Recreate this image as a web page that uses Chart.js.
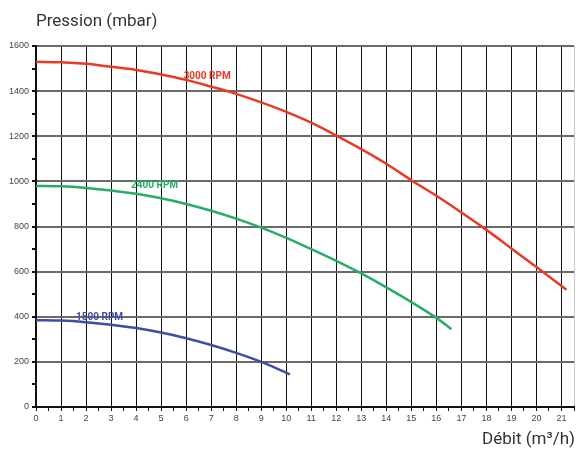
<!DOCTYPE html>
<html>
<head>
<meta charset="utf-8">
<script src="https://cdn.jsdelivr.net/npm/chart.js@4"></script>
<style>
  html, body { margin: 0; padding: 0; background: #fff; }
  #wrap { width: 576px; height: 450px; position: relative; }
</style>
</head>
<body>
<div id="wrap"><canvas id="chart"></canvas></div>
<script>
// debit (m3/h) and pression (mbar)
var flow3000 = [0, 1, 2, 3, 4, 5, 6, 7, 8, 9, 10, 11, 12, 13, 14, 15, 16, 17, 18, 19, 20, 21.2];
var pres3000 = [1530, 1528, 1521, 1508, 1494, 1474, 1450, 1420, 1388, 1350, 1308, 1260, 1203, 1143, 1078, 1005, 936, 862, 785, 703, 620, 520];
var flow2400 = [0, 1, 2, 3, 4, 5, 6, 7, 8, 9, 10, 11, 12, 13, 14, 15, 16, 16.6];
var pres2400 = [980, 978, 971, 960, 945, 925, 900, 870, 835, 795, 750, 700, 648, 592, 530, 465, 395, 345];
var flow1500 = [0, 1, 2, 3, 4, 5, 6, 7, 8, 9, 10.15];
var pres1500 = [385, 383, 376, 365, 350, 330, 305, 275, 240, 200, 145];
var seriesNames = ["3000 RPM", "2400 RPM", "1500 RPM"];
var seriesColors = ["#e93a25", "#27ad68", "#3e4ea2"];
// where each curve's name sits (debit, pression)
var labelAt = [[5.9, 1463], [3.8, 980], [1.6, 395]];

function pts(xs, ys) {
  var out = [];
  for (var i = 0; i < xs.length; i++) out.push({x: xs[i], y: ys[i]});
  return out;
}

var curveLabels = {
  id: 'curveLabels',
  afterDatasetsDraw: function(chart) {
    var ctx = chart.ctx, xs = chart.scales.x, ys = chart.scales.y;
    ctx.save();
    ctx.font = 'bold 10px "Roboto", sans-serif';
    ctx.textBaseline = 'middle';
    ctx.textAlign = 'left';
    for (var i = 0; i < seriesNames.length; i++) {
      ctx.fillStyle = seriesColors[i];
      ctx.fillText(seriesNames[i], xs.getPixelForValue(labelAt[i][0]), ys.getPixelForValue(labelAt[i][1]));
    }
    // axis titles
    ctx.fillStyle = '#333';
    ctx.font = '17px "Roboto", sans-serif';
    ctx.textAlign = 'left';
    ctx.fillText('Pression (mbar)', 36, 22);
    ctx.textAlign = 'right';
    ctx.fillText('Débit (m³/h)', 575, 440);
    ctx.restore();
  }
};

new Chart(document.getElementById('chart'), {
  type: 'scatter',
  data: {
    datasets: [
      {label: seriesNames[0], data: pts(flow3000, pres3000), borderColor: seriesColors[0]},
      {label: seriesNames[1], data: pts(flow2400, pres2400), borderColor: seriesColors[1]},
      {label: seriesNames[2], data: pts(flow1500, pres1500), borderColor: seriesColors[2]}
    ].map(function(d) {
      d.showLine = true; d.borderWidth = 2.5; d.pointRadius = 0;
      d.cubicInterpolationMode = 'monotone'; d.fill = false;
      return d;
    })
  },
  options: {
    responsive: true,
    maintainAspectRatio: false,
    animation: false,
    layout: { padding: { top: 46, right: 2, left: 0, bottom: 0 } },
    plugins: { legend: { display: false }, tooltip: { enabled: false } },
    scales: {
      x: {
        type: 'linear', min: 0, max: 21.5,
        afterFit: function(s) { s.height = 43; },
        border: { color: '#111', width: 2 },
        ticks: {
          stepSize: 0.5, autoSkip: false, maxRotation: 0, padding: 2,
          color: '#444', font: { size: 9, family: 'Arial, sans-serif' },
          callback: function(v) { return Number.isInteger(v) ? v : ''; }
        },
        grid: {
          tickLength: 4,
          color: function(c) {
            var v = c.tick && c.tick.value;
            if (v === 21.5) return '#c8c8c8';
            return Number.isInteger(v) ? '#111' : 'rgba(0,0,0,0)';
          },
          tickColor: '#111',
          lineWidth: 1
        }
      },
      y: {
        type: 'linear', min: 0, max: 1600,
        afterFit: function(s) { s.width = 36; },
        border: { color: '#111', width: 2 },
        ticks: {
          stepSize: 100, autoSkip: false, padding: 3,
          color: '#444', font: { size: 9, family: 'Arial, sans-serif' },
          callback: function(v) { return v % 200 === 0 ? v : ''; }
        },
        grid: {
          tickLength: 4,
          color: function(c) {
            var v = c.tick && c.tick.value;
            return v % 200 === 0 ? '#6a6a6a' : 'rgba(0,0,0,0)';
          },
          tickColor: '#111',
          lineWidth: 2
        }
      }
    }
  },
  plugins: [curveLabels]
});
</script>
</body>
</html>
